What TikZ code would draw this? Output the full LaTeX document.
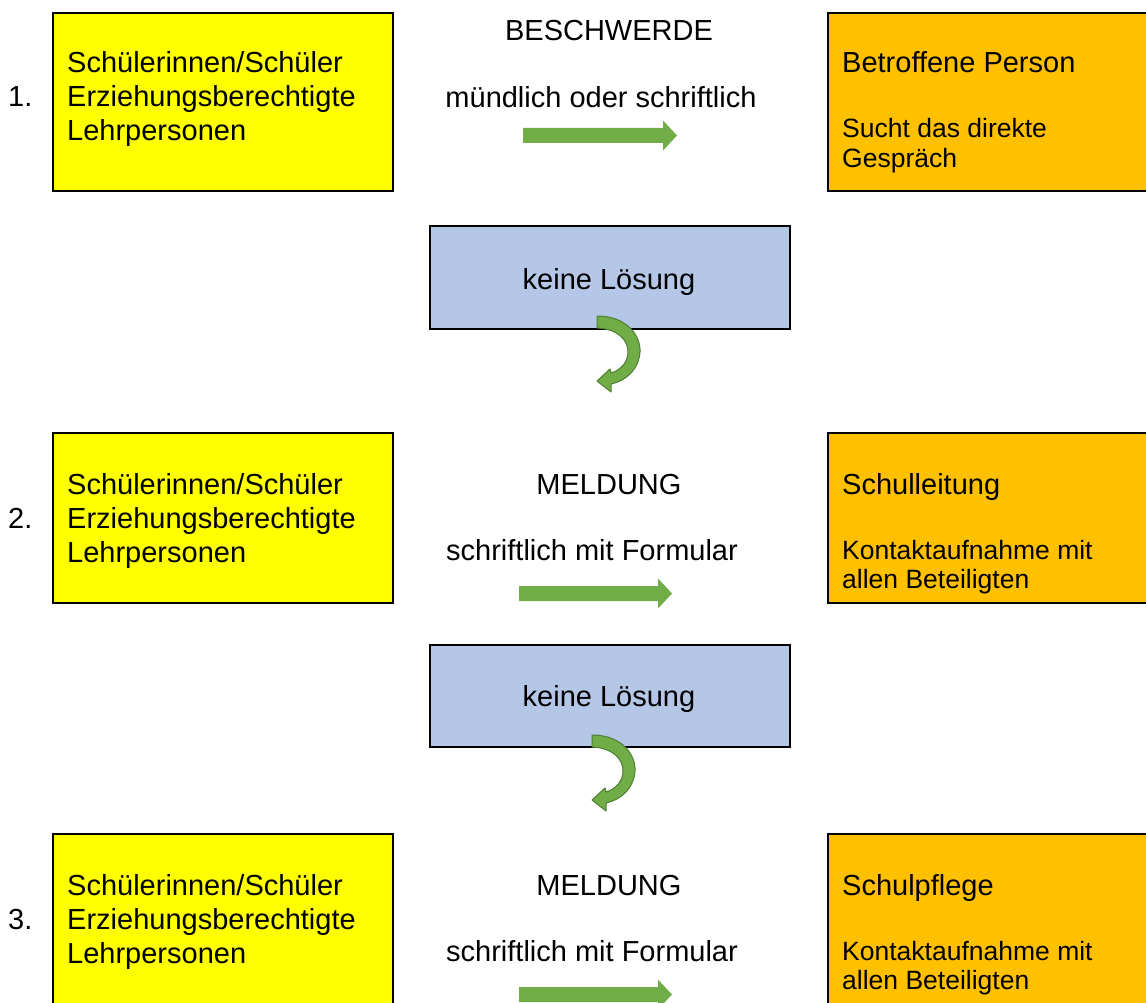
\documentclass[tikz,border=0pt]{standalone}
\usepackage{fontspec}
\setmainfont{Liberation Sans}
\definecolor{yel}{HTML}{FFFF00}
\definecolor{org}{HTML}{FFC000}
\definecolor{blu}{HTML}{B4C7E7}
\definecolor{grn}{HTML}{70AD47}
\definecolor{grndark}{HTML}{507E32}
\begin{document}
\begin{tikzpicture}[x=1pt,y=-1pt,
  box/.style={draw=black,line width=2pt,inner sep=0pt,anchor=north west},
  big/.style={font=\fontsize{29}{34}\selectfont,inner sep=0pt,anchor=base west},
  small/.style={font=\fontsize{26.5}{30}\selectfont,inner sep=0pt,anchor=base west},
  ctr/.style={font=\fontsize{29}{34}\selectfont,inner sep=0pt,anchor=base},
  straightarrow/.style={fill=grn,draw=none},
  curvedarrow/.style={fill=grn,draw=grndark,line width=1pt,line join=round}]
\useasboundingbox (0,0) rectangle (1146,1003);
\clip (0,0) rectangle (1146,1003);
\fill[white] (0,0) rectangle (1146,1003);
% Row 1
\node[box,fill=yel,minimum width=340pt,minimum height=178pt] (y1) at (52,12) {};
\node[box,fill=org,minimum width=340pt,minimum height=178pt] (o1) at (827,12) {};
\node[box,fill=blu,minimum width=360pt,minimum height=103pt] (b1) at (429,225) {};
\node[big] (n1) at (8,107) {1.};
\node[big] (y1a) at (67,73) {Schülerinnen/Schüler};
\node[big] (y1b) at (67,107) {Erziehungsberechtigte};
\node[big] (y1c) at (67,141) {Lehrpersonen};
\node[big] (o1a) at (842,73) {Betroffene Person};
\node[small] (o1b) at (842,138) {Sucht das direkte};
\node[small] (o1c) at (842,168) {Gespräch};
\node[ctr] (t1a) at (609,41) {BESCHWERDE};
\node[ctr] (t1b) at (601,108) {mündlich oder schriftlich};
\node[ctr] (k1) at (609,289) {keine Lösung};
\coordinate (a1s) at (523,135.5);
\coordinate (a1e) at (677,135.5);
\fill[straightarrow] ([yshift=-7.5pt]a1s) -- ([xshift=-14pt,yshift=-7.5pt]a1e) -- ([xshift=-14pt,yshift=-15pt]a1e) -- (a1e) -- ([xshift=-14pt,yshift=15pt]a1e) -- ([xshift=-14pt,yshift=7.5pt]a1e) -- ([yshift=7.5pt]a1s) -- cycle;
\draw[curvedarrow] (597,316) .. controls (628,316) and (641,337) .. (640,352) .. controls (639,368) and (628,380) .. (611,384) -- (611,392) -- (597,381) -- (610,369) -- (611,373) .. controls (621,370) and (628,362) .. (628,352) .. controls (628,340) and (618,329) .. (597,328) -- cycle;
% Row 2
\node[box,fill=yel,minimum width=340pt,minimum height=170pt] (y2) at (52,432) {};
\node[box,fill=org,minimum width=340pt,minimum height=170pt] (o2) at (827,432) {};
\node[box,fill=blu,minimum width=360pt,minimum height=102pt] (b2) at (429,644) {};
\node[big] (n2) at (8,528) {2.};
\node[big] (y2a) at (67,494) {Schülerinnen/Schüler};
\node[big] (y2b) at (67,528) {Erziehungsberechtigte};
\node[big] (y2c) at (67,562) {Lehrpersonen};
\node[big] (o2a) at (842,494) {Schulleitung};
\node[small] (o2b) at (842,559) {Kontaktaufnahme mit};
\node[small] (o2c) at (842,588) {allen Beteiligten};
\node[ctr] (t2a) at (609,494) {MELDUNG};
\node[ctr] (t2b) at (592,560) {schriftlich mit Formular};
\node[ctr] (k2) at (609,706) {keine Lösung};
\coordinate (a2s) at (519,593.5);
\coordinate (a2e) at (672,593.5);
\fill[straightarrow] ([yshift=-7.5pt]a2s) -- ([xshift=-14pt,yshift=-7.5pt]a2e) -- ([xshift=-14pt,yshift=-15pt]a2e) -- (a2e) -- ([xshift=-14pt,yshift=15pt]a2e) -- ([xshift=-14pt,yshift=7.5pt]a2e) -- ([yshift=7.5pt]a2s) -- cycle;
\begin{scope}[shift={(-5,419)}]
\draw[curvedarrow] (597,316) .. controls (628,316) and (641,337) .. (640,352) .. controls (639,368) and (628,380) .. (611,384) -- (611,392) -- (597,381) -- (610,369) -- (611,373) .. controls (621,370) and (628,362) .. (628,352) .. controls (628,340) and (618,329) .. (597,328) -- cycle;
\end{scope}
% Row 3
\node[box,fill=yel,minimum width=340pt,minimum height=175pt] (y3) at (52,833) {};
\node[box,fill=org,minimum width=340pt,minimum height=175pt] (o3) at (827,833) {};
\node[big] (n3) at (8,929) {3.};
\node[big] (y3a) at (67,895) {Schülerinnen/Schüler};
\node[big] (y3b) at (67,929) {Erziehungsberechtigte};
\node[big] (y3c) at (67,963) {Lehrpersonen};
\node[big] (o3a) at (842,895) {Schulpflege};
\node[small] (o3b) at (842,960) {Kontaktaufnahme mit};
\node[small] (o3c) at (842,989) {allen Beteiligten};
\node[ctr] (t3a) at (609,895) {MELDUNG};
\node[ctr] (t3b) at (592,961) {schriftlich mit Formular};
\coordinate (a3s) at (519,994.5);
\coordinate (a3e) at (672,994.5);
\fill[straightarrow] ([yshift=-7.5pt]a3s) -- ([xshift=-14pt,yshift=-7.5pt]a3e) -- ([xshift=-14pt,yshift=-15pt]a3e) -- (a3e) -- ([xshift=-14pt,yshift=15pt]a3e) -- ([xshift=-14pt,yshift=7.5pt]a3e) -- ([yshift=7.5pt]a3s) -- cycle;
\end{tikzpicture}
\end{document}
